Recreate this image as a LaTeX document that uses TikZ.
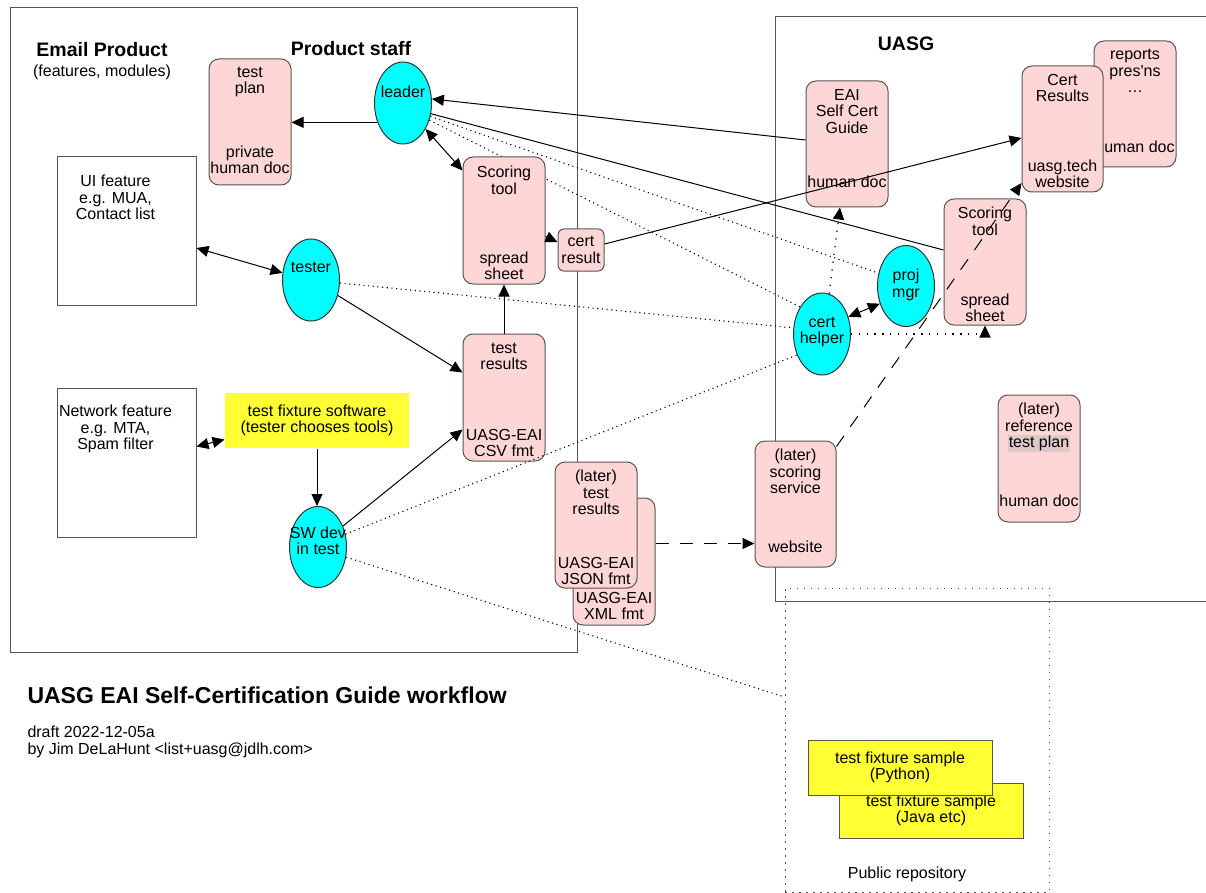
\documentclass[tikz,border=0pt]{standalone}
\usepackage{fontspec}
\setmainfont{Liberation Sans}
\usetikzlibrary{arrows.meta,shapes.geometric}
\definecolor{docpink}{RGB}{255,214,214}
\definecolor{staffcyan}{RGB}{0,255,255}
\definecolor{fixyellow}{RGB}{255,255,51}
\definecolor{edgegray}{RGB}{85,85,85}
\definecolor{hilite}{RGB}{222,200,200}
\setlength{\fboxsep}{1pt}

\begin{document}
\begin{tikzpicture}[x=1pt,y=-1pt,line width=1pt,>={Triangle[length=12pt,width=11pt]},
  txt/.style={font=\fontsize{16}{16.5}\selectfont,align=center,inner sep=0pt},
  head/.style={font=\fontsize{19.5}{22}\selectfont\bfseries,inner sep=0pt},
  doc/.style={draw=edgegray,fill=docpink,rounded corners=10pt,minimum width=82,minimum height=126,inner sep=0pt},
  person/.style={ellipse,draw=black!80,fill=staffcyan,minimum width=57,minimum height=82,inner sep=0pt},
  fixture/.style={txt,fill=fixyellow,minimum width=184,minimum height=55},
  feature/.style={draw=edgegray,minimum width=139,minimum height=148,inner sep=0pt},
  dotlink/.style={line width=1.1pt,dash pattern=on 1.1pt off 3.6pt},
  sparsedot/.style={line width=1.2pt,dash pattern=on 1.3pt off 6.5pt},
  dashlink/.style={dash pattern=on 13pt off 11pt}]

\useasboundingbox (0,0) rectangle (1206,893);

\draw[edgegray] (10,8) rectangle (577,652);
\draw[edgegray] (1206,17) -- (775,17) -- (775,601) -- (1206,601);
\node[draw=black!70,dash pattern=on 1.5pt off 5.5pt,minimum width=264,minimum height=304,inner sep=0pt,
  label={[txt,anchor=south,xshift=-10pt,yshift=10pt]south:Public repository}] (pub) at (917,740) {};

\node[head] (prod) at (102,50) {Email Product};
\node[txt] (prodsub) at (102,72) {(features, modules)};
\node[head] (staff) at (351,49) {Product staff};
\node[head] (uasg) at (906,44) {UASG};

\node[person,label={[txt,yshift=11pt]center:leader}] (leader) at (403,103) {};
\node[person,label={[txt,yshift=13pt]center:tester}] (tester) at (311,280) {};
\node[person,minimum height=81,label={[txt,yshift=6pt]center:SW dev\\in test}] (swdev) at (318,547) {};
\node[person,minimum height=81,label={[txt,yshift=1pt]center:proj\\mgr}] (projmgr) at (906,286) {};
\node[person,label={[txt,yshift=2pt]center:cert\\helper}] (helper) at (822,334) {};

\draw[dotlink] (leader.-26) -- (projmgr.155);
\draw[dotlink] (leader.-33) -- (helper.129);

\node[feature,label={[txt,anchor=north,xshift=-11pt,yshift=-18pt]north:UI feature\\e.g. MUA,\\Contact list}] (uif) at (126.5,231) {};
\node[feature,minimum height=149,label={[txt,anchor=north,xshift=-11pt,yshift=-17pt]north:Network feature\\e.g. MTA,\\Spam filter}] (nf) at (126.5,462.5) {};

\node[doc,label={[txt,anchor=north,yshift=-8pt]north:test\\plan},label={[txt,anchor=south,yshift=11pt]south:private\\human doc}] (plan) at (250,122) {};

\node[doc,minimum height=127,label={[txt,anchor=north,yshift=-9pt]north:Scoring\\tool},label={[txt,anchor=south,yshift=4pt]south:spread\\sheet}] (scorL) at (504,220.5) {};
\node[doc,minimum width=46,minimum height=42,rounded corners=6pt,txt] (certres) at (581,250) {cert\\result};
\node[doc,minimum height=127,label={[txt,anchor=north,yshift=-9pt]north:test\\results},label={[txt,anchor=south,yshift=4pt]south:UASG-EAI\\CSV fmt}] (tres) at (504,397.5) {};
\node[fixture] (fixsw) at (317,420.5) {test fixture software\\(tester chooses tools)};

\node[doc,minimum height=127,label={[txt,anchor=south,yshift=5pt]south:UASG-EAI\\XML fmt}] (lback) at (614,561.5) {};
\node[doc,label={[txt,anchor=north,yshift=-8pt]north:(later)\\test\\results},label={[txt,anchor=south,yshift=3pt]south:UASG-EAI\\JSON fmt}] (lfront) at (596,525) {};

\node[doc,label={[txt,anchor=north,yshift=-8pt]north:EAI\\Self Cert\\Guide},label={[txt,anchor=south,yshift=19pt]south:human doc}] (eai) at (847,144) {};
\node[doc,label={[txt,anchor=north,yshift=-8.5pt]north:reports\\pres\textquotesingle ns\\\ldots},label={[txt,anchor=south,yshift=14pt]south:human doc}] (reports) at (1135,104) {};
\node[doc,minimum width=81,label={[txt,anchor=north,yshift=-8pt]north:Cert\\Results},label={[txt,anchor=south,yshift=4pt]south:uasg.tech\\website}] (certR) at (1062.5,129) {};
\node[doc,label={[txt,anchor=north,yshift=-8pt]north:Scoring\\tool},label={[txt,anchor=south,yshift=3pt]south:spread\\sheet}] (scorR) at (985,262) {};
\node[doc,minimum width=81,label={[txt,anchor=north,yshift=-8pt]north:(later)\\scoring\\service},label={[txt,anchor=south,yshift=14pt]south:website}] (scserv) at (795.5,504) {};
\node[doc,minimum height=127,label={[txt,anchor=north,yshift=-8pt]north:(later)\\reference\\\colorbox{hilite}{test plan}},label={[txt,anchor=south,yshift=15pt]south:human doc}] (reftp) at (1039,458.5) {};

\node[fixture,draw=edgegray] (java) at (931,810.5) {test fixture sample\\(Java etc)};
\node[fixture,draw=edgegray] (python) at (900,767.5) {test fixture sample\\(Python)};

\node[font=\fontsize{23}{26}\selectfont\bfseries,anchor=west,inner sep=0pt] (title) at (27,695) {UASG EAI Self-Certification Guide workflow};
\node[txt,align=left,anchor=west] (byline) at (27,742) {draft 2022-12-05a\\by Jim DeLaHunt <list+uasg@jdlh.com>};

\draw[->] (leader.217) -- (plan.east |- leader.217);
\draw[<->] (leader.-49) -- ([yshift=-14pt]scorL.north west);
\draw[->] ([yshift=4pt]eai.west) -- (leader.8);
\draw ([yshift=12pt]scorR.west) -- (leader.-21);
\draw[<->] ([yshift=-17pt]uif.east) -- (tester.166);
\draw[->] (tester.-30) -- ([yshift=25pt]tres.west);
\draw[->] (tres.north) -- (scorL.south);
\draw[->] ([yshift=-16pt]scorL.east) -- ([yshift=8pt]certres.west);
\draw[->] ([yshift=6pt]certres.east) -- ([yshift=-9pt]certR.west);
\draw[<->] ([yshift=16pt]nf.east) -- ([yshift=-19pt]fixsw.west);
\draw[->] (fixsw.south) -- (fixsw.south |- swdev.north);
\draw[->] (swdev.40) -- ([yshift=-32pt]tres.west);
\draw[dotlink] (tester.-6) -- (helper.168);
\draw[dotlink] (swdev.25) -- (helper.220);
\draw[dotlink] (swdev.-20) -- ([yshift=43pt]pub.west);
\draw[<->] (helper.33) -- (projmgr.214);
\draw[sparsedot,->] (helper.80) -- ([xshift=-7pt]eai.south);
\draw[sparsedot,->] (helper.east) -| (scorR.south);
\draw[dashlink,->] ([yshift=-6pt]scserv.north east) -- ([yshift=-54pt]certR.west);
\draw[dashlink,->] ([yshift=18pt]lback.east) -- ([yshift=18pt]lback.east -| scserv.west);

\end{tikzpicture}
\end{document}
